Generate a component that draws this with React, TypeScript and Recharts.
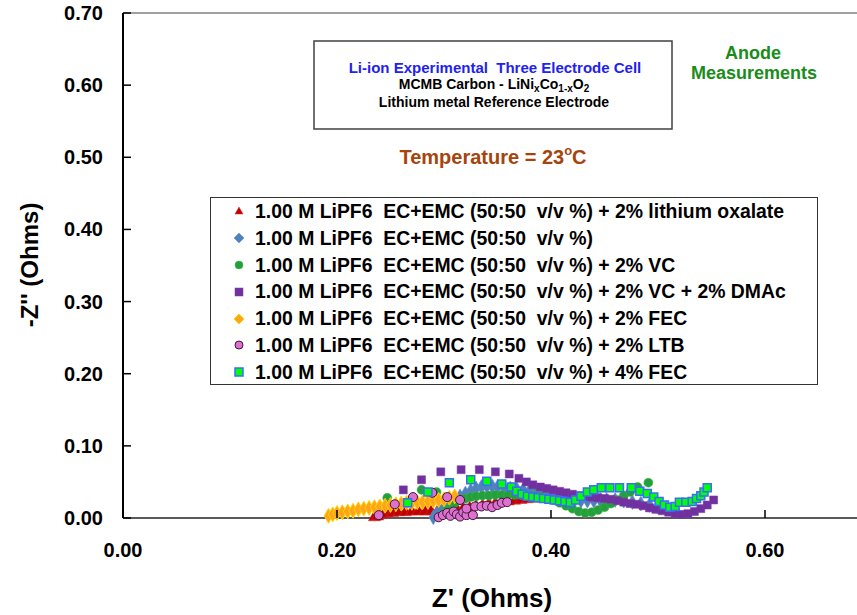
import React from 'react';
import { ScatterChart, Scatter, XAxis, YAxis, ZAxis, Legend, ReferenceLine, Customized } from 'recharts';

const FONT = "'Liberation Sans', Arial, sans-serif";

const xTicks = [0, 0.2, 0.4, 0.6];
const yTicks = [0, 0.1, 0.2, 0.3, 0.4, 0.5, 0.6, 0.7];

const seriesNames = [
  '1.00 M LiPF6  EC+EMC (50:50  v/v %) + 2% lithium oxalate',
  '1.00 M LiPF6  EC+EMC (50:50  v/v %)',
  '1.00 M LiPF6  EC+EMC (50:50  v/v %) + 2% VC',
  '1.00 M LiPF6  EC+EMC (50:50  v/v %) + 2% VC + 2% DMAc',
  '1.00 M LiPF6  EC+EMC (50:50  v/v %) + 2% FEC',
  '1.00 M LiPF6  EC+EMC (50:50  v/v %) + 2% LTB',
  '1.00 M LiPF6  EC+EMC (50:50  v/v %) + 4% FEC',
];

const oxalateData: [number, number][] = [
  [0.235, 0.001], [0.238, 0.002], [0.242, 0.004], [0.247, 0.006], [0.252, 0.007], [0.258, 0.008],
  [0.264, 0.008], [0.27, 0.009], [0.276, 0.009], [0.282, 0.009], [0.288, 0.009], [0.294, 0.009],
  [0.3, 0.01], [0.306, 0.011], [0.312, 0.012], [0.318, 0.013], [0.324, 0.014], [0.33, 0.016],
  [0.336, 0.017], [0.342, 0.019], [0.348, 0.02], [0.354, 0.022], [0.36, 0.023], [0.366, 0.024],
  [0.372, 0.025], [0.378, 0.026], [0.384, 0.027], [0.39, 0.027],
];

const baselineData: [number, number][] = [
  [0.29, 0.001], [0.293, 0.005], [0.296, 0.01], [0.3, 0.015], [0.305, 0.02], [0.31, 0.025],
  [0.315, 0.03], [0.32, 0.034], [0.325, 0.038], [0.33, 0.041], [0.335, 0.043], [0.34, 0.044],
  [0.345, 0.044], [0.35, 0.043], [0.356, 0.042], [0.362, 0.041], [0.368, 0.04], [0.374, 0.039],
  [0.38, 0.038], [0.386, 0.036], [0.392, 0.034], [0.398, 0.032], [0.404, 0.03], [0.41, 0.028],
  [0.416, 0.026], [0.422, 0.025], [0.428, 0.024], [0.434, 0.024], [0.44, 0.024], [0.446, 0.025],
  [0.452, 0.025], [0.46, 0.025], [0.468, 0.024], [0.476, 0.022], [0.484, 0.02], [0.492, 0.018],
  [0.5, 0.016], [0.508, 0.014], [0.516, 0.012],
];

const vcData: [number, number][] = [
  [0.247, 0.028], [0.279, 0.039], [0.293, 0.036], [0.3, 0.006], [0.303, 0.011], [0.307, 0.016],
  [0.31, 0.021], [0.315, 0.025], [0.32, 0.027], [0.325, 0.029], [0.33, 0.03], [0.336, 0.031],
  [0.342, 0.031], [0.348, 0.032], [0.354, 0.032], [0.36, 0.032], [0.366, 0.032], [0.372, 0.032],
  [0.378, 0.031], [0.384, 0.031], [0.39, 0.03], [0.396, 0.028], [0.402, 0.025], [0.408, 0.021],
  [0.414, 0.017], [0.42, 0.013], [0.426, 0.009], [0.432, 0.007], [0.438, 0.008], [0.444, 0.011],
  [0.45, 0.015], [0.456, 0.02], [0.462, 0.025], [0.468, 0.031], [0.474, 0.036], [0.481, 0.043],
  [0.491, 0.049],
];

const vcDmacData: [number, number][] = [
  [0.262, 0.039], [0.279, 0.053], [0.297, 0.064], [0.316, 0.067], [0.333, 0.067], [0.348, 0.064],
  [0.361, 0.061], [0.37, 0.055], [0.377, 0.05], [0.383, 0.046], [0.39, 0.043], [0.396, 0.041],
  [0.402, 0.039], [0.408, 0.037], [0.414, 0.035], [0.42, 0.033], [0.426, 0.031], [0.432, 0.03],
  [0.438, 0.029], [0.444, 0.028], [0.45, 0.027], [0.456, 0.026], [0.462, 0.024], [0.468, 0.022],
  [0.474, 0.02], [0.48, 0.019], [0.486, 0.017], [0.492, 0.014], [0.498, 0.012], [0.504, 0.01],
  [0.51, 0.008], [0.516, 0.006], [0.522, 0.005], [0.528, 0.006], [0.534, 0.009], [0.54, 0.013],
  [0.546, 0.018], [0.552, 0.025],
];

const fec2Data: [number, number][] = [
  [0.192, 0.003], [0.196, 0.005], [0.2, 0.007], [0.205, 0.008], [0.21, 0.009], [0.215, 0.01],
  [0.22, 0.012], [0.225, 0.013], [0.23, 0.014], [0.235, 0.015], [0.24, 0.016], [0.245, 0.017],
  [0.25, 0.018], [0.255, 0.019], [0.26, 0.02], [0.265, 0.021], [0.27, 0.021], [0.275, 0.022],
  [0.28, 0.022], [0.285, 0.023], [0.29, 0.024], [0.295, 0.025], [0.3, 0.026], [0.305, 0.028],
  [0.31, 0.03],
];

const ltbData: [number, number][] = [
  [0.239, 0.004], [0.254, 0.019], [0.271, 0.029], [0.289, 0.035], [0.303, 0.029], [0.315, 0.025],
  [0.295, 0.001], [0.299, 0.004], [0.303, 0.007], [0.306, 0.003], [0.309, 0.009], [0.312, 0.005],
  [0.315, 0.002], [0.318, 0.008], [0.321, 0.004], [0.321, 0.013], [0.327, 0.004], [0.329, 0.016],
  [0.335, 0.016], [0.34, 0.017], [0.345, 0.015], [0.35, 0.018], [0.354, 0.021], [0.359, 0.022],
];

const fec4Data: [number, number][] = [
  [0.266, 0.021], [0.285, 0.036], [0.305, 0.049], [0.325, 0.053], [0.34, 0.051], [0.354, 0.047],
  [0.363, 0.043], [0.368, 0.037], [0.373, 0.033], [0.378, 0.03], [0.383, 0.029], [0.388, 0.028],
  [0.393, 0.027], [0.398, 0.026], [0.403, 0.025], [0.408, 0.024], [0.413, 0.023], [0.418, 0.022],
  [0.423, 0.025], [0.428, 0.03], [0.434, 0.036], [0.44, 0.039], [0.447, 0.042], [0.455, 0.042],
  [0.464, 0.042], [0.475, 0.042], [0.483, 0.037], [0.49, 0.034], [0.496, 0.029], [0.501, 0.023],
  [0.506, 0.018], [0.511, 0.015], [0.516, 0.016], [0.52, 0.022], [0.526, 0.022], [0.532, 0.023],
  [0.536, 0.027], [0.54, 0.031], [0.543, 0.036], [0.546, 0.042],
];

const seriesData = [oxalateData, baselineData, vcData, vcDmacData, fec2Data, ltbData, fec4Data];
const seriesShapes = ['triangle', 'diamond', 'circle', 'square', 'diamond', 'circle', 'square'];
const seriesFill = ['#C00000', '#4F81BD', '#22A03C', '#7030A0', '#FFA41C', '#E070D0', '#00FF00'];
const seriesStroke = ['#D83030', '#5A8AC6', '#4DB04D', '#7A3AAA', '#FFD400', '#3A1A3A', '#3A6CFF'];
const seriesStrokeWidth = [0.5, 0.5, 0.5, 0.5, 1, 1, 1.5];

const toPoints = (arr: [number, number][]) => arr.map(([x, y]) => ({ x, y }));

const YTick = (props: any) => {
  const { x, y, payload } = props;
  return (
    <g>
      <line x1={x + 20} x2={x + 28} y1={y} y2={y} stroke="#000" strokeWidth={1.5} />
      <text x={x} y={y} dy="0.35em" textAnchor="end" fontFamily={FONT} fontWeight="bold" fontSize={20} fill="#000">
        {Number(payload.value).toFixed(2)}
      </text>
    </g>
  );
};

const XTick = (props: any) => {
  const { x, y, payload } = props;
  return (
    <g>
      <line x1={x} x2={x} y1={y - 25} y2={y - 33} stroke="#000" strokeWidth={1.5} />
      <text x={x} y={y} dy="0.71em" textAnchor="middle" fontFamily={FONT} fontWeight="bold" fontSize={20} fill="#000">
        {Number(payload.value).toFixed(2)}
      </text>
    </g>
  );
};

const LegendMarker = ({ i }: { i: number }) => {
  const shape = seriesShapes[i];
  const fill = seriesFill[i];
  const stroke = seriesStroke[i];
  const sw = seriesStrokeWidth[i];
  let el: React.ReactNode = null;
  if (shape === 'triangle') el = <polygon points="7,3 11,10 3,10" fill={fill} stroke={stroke} strokeWidth={sw} />;
  else if (shape === 'diamond') el = <polygon points="7,2 12,7 7,12 2,7" fill={fill} stroke={stroke} strokeWidth={sw} />;
  else if (shape === 'circle') el = <circle cx={7} cy={7} r={4} fill={fill} stroke={stroke} strokeWidth={sw} />;
  else el = <rect x={3} y={3} width={8} height={8} fill={fill} stroke={stroke} strokeWidth={sw} />;
  return (
    <svg width={14} height={14} style={{ display: 'block' }}>
      {el}
    </svg>
  );
};

const renderLegend = () => (
  <div
    style={{
      width: 608,
      height: 188,
      boxSizing: 'border-box',
      border: '1.5px solid #333',
      background: '#fff',
      fontFamily: FONT,
      fontWeight: 'bold',
      fontSize: 19.4,
      color: '#000',
    }}
  >
    {seriesNames.map((name, i) => (
      <div key={name} style={{ display: 'flex', alignItems: 'center', height: 26.8 }}>
        <div style={{ marginLeft: 21 }}>
          <LegendMarker i={i} />
        </div>
        <span style={{ marginLeft: 9, whiteSpace: 'pre', lineHeight: '26.8px' }}>{name}</span>
      </div>
    ))}
  </div>
);

const Annotations = () => (
  <g fontFamily={FONT} fontWeight="bold">
    <rect x={314} y={41} width={358} height={88} fill="#fff" stroke="#404040" strokeWidth={1.5} />
    <text x={495} y={67} dominantBaseline="central" textAnchor="middle" fontSize={15} fill="#2222EE" style={{ whiteSpace: 'pre' }}>
      Li-ion Experimental  Three Electrode Cell
    </text>
    <text x={494} y={84} dominantBaseline="central" textAnchor="middle" fontSize={14} fill="#000">
      MCMB Carbon - LiNi<tspan dy={4} fontSize={10}>x</tspan>
      <tspan dy={-4}>Co</tspan>
      <tspan dy={4} fontSize={10}>1-x</tspan>
      <tspan dy={-4}>O</tspan>
      <tspan dy={4} fontSize={10}>2</tspan>
    </text>
    <text x={494} y={102} dominantBaseline="central" textAnchor="middle" fontSize={14} fill="#000">
      Lithium metal Reference Electrode
    </text>
    <text x={753} y={53} dominantBaseline="central" textAnchor="middle" fontSize={18} fill="#1A8C1A">
      Anode
    </text>
    <text x={754} y={73} dominantBaseline="central" textAnchor="middle" fontSize={18} fill="#1A8C1A">
      Measurements
    </text>
    <text x={493} y={157} dominantBaseline="central" textAnchor="middle" fontSize={20} fill="#A5450D">
      Temperature = 23<tspan dy={-7} fontSize={13}>o</tspan>
      <tspan dy={7}>C</tspan>
    </text>
    <text x={492} y={607} textAnchor="middle" fontSize={26} fill="#000">
      Z' (Ohms)
    </text>
    <text x={0} y={0} transform="translate(38,265) rotate(-90)" textAnchor="middle" fontSize={24} fill="#000">
      -Z'' (Ohms)
    </text>
  </g>
);

export default function App() {
  return (
    <div style={{ position: 'absolute', left: 0, top: 0, width: 857, height: 615, overflow: 'hidden', background: '#fff' }}>
      <ScatterChart width={900} height={615} margin={{ top: 13, right: 28, bottom: 0, left: 0 }}>
        <XAxis
          type="number"
          dataKey="x"
          domain={[0, 0.7]}
          ticks={xTicks}
          tick={<XTick />}
          tickSize={0}
          tickMargin={25}
          tickLine={false}
          height={97}
          axisLine={{ stroke: '#595959', strokeWidth: 2 }}
        />
        <YAxis
          type="number"
          dataKey="y"
          domain={[0, 0.7]}
          ticks={yTicks}
          tick={<YTick />}
          tickSize={0}
          tickMargin={20}
          tickLine={false}
          width={123}
          axisLine={{ stroke: '#000', strokeWidth: 2 }}
        />
        <ZAxis range={[66, 66]} />
        <ReferenceLine y={0.7} stroke="#808080" strokeWidth={1.5} />
        {seriesData.map((d, i) => (
          <Scatter
            key={seriesNames[i]}
            name={seriesNames[i]}
            data={toPoints(d)}
            shape={seriesShapes[i] as any}
            fill={seriesFill[i]}
            stroke={seriesStroke[i]}
            strokeWidth={seriesStrokeWidth[i]}
            isAnimationActive={false}
          />
        ))}
        <Customized component={Annotations} />
        <Legend
          layout="vertical"
          align="center"
          verticalAlign="middle"
          content={renderLegend}
          wrapperStyle={{ left: 210, top: 197, width: 608, height: 188 }}
        />
      </ScatterChart>
    </div>
  );
}
